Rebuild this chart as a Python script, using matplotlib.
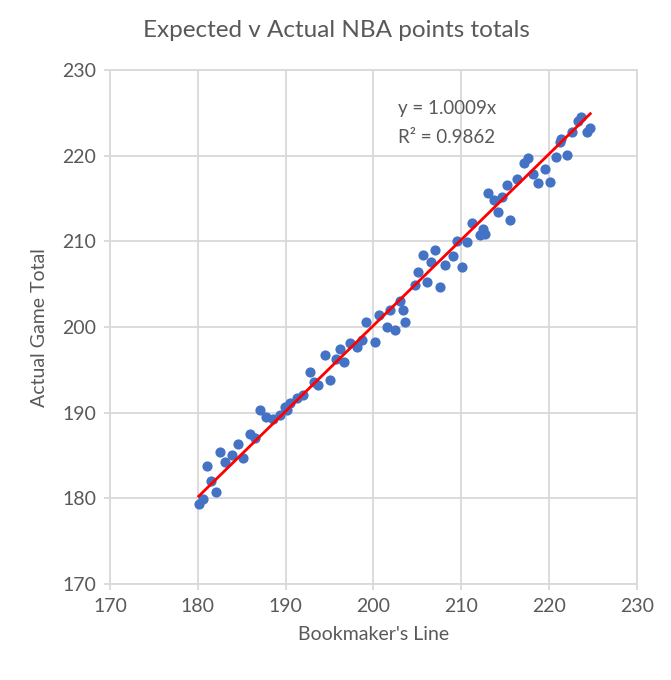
import numpy as np
import matplotlib
matplotlib.use("Agg")
import matplotlib.pyplot as plt

plt.rcParams['font.family'] = ['Lato', 'DejaVu Sans']

# Bookmaker's line (x) and actual game total (y)
line = [180.1, 180.6, 182.1, 181.5, 181.0, 182.5, 183.1, 183.9, 184.6, 185.2,
        185.9, 186.5, 187.1, 187.8, 188.6, 189.4, 190.1, 190.5, 191.3, 192.0,
        192.8, 193.7, 195.1, 194.5, 196.2, 196.6, 197.3, 198.1, 198.7, 200.2,
        199.2, 200.6, 201.5, 202.5, 201.9, 203.4, 203.6, 203.0, 204.7, 206.1,
        207.6, 205.1, 206.6, 205.7, 207.0, 208.2, 209.1, 210.1, 209.5, 210.7,
        211.2, 212.1, 212.7, 212.5, 215.6, 214.2, 213.1, 213.7, 214.6, 215.2,
        216.3, 217.1, 217.6, 218.2, 218.8, 219.5, 220.1, 220.8, 222.1, 221.3,
        221.4, 222.6, 223.3, 223.7, 224.3, 224.7, 193.2, 195.7, 189.9]
actual = [179.4, 179.9, 180.7, 182.0, 183.8, 185.4, 184.3, 185.1, 186.3, 184.7,
          187.5, 187.0, 190.3, 189.5, 189.3, 189.7, 190.3, 191.1, 191.7, 192.1,
          194.8, 193.2, 193.8, 196.7, 197.5, 195.9, 198.2, 197.7, 198.5, 198.3,
          200.6, 201.4, 200.0, 199.7, 202.0, 202.0, 200.6, 203.1, 204.9, 205.3,
          204.7, 206.4, 207.6, 208.4, 209.0, 207.2, 208.3, 207.0, 210.1, 209.9,
          212.1, 210.7, 210.9, 211.5, 212.5, 213.4, 215.6, 214.8, 215.2, 216.6,
          217.3, 219.1, 219.7, 217.9, 216.8, 218.4, 216.9, 219.8, 220.1, 221.6,
          222.0, 222.8, 224.1, 224.5, 222.8, 223.2, 193.6, 196.3, 190.7]
slope = 1.0009
r2 = 0.9862

x = np.array(line)
y = np.array(actual)

grey = '#595959'
grid = '#D9D9D9'

fig = plt.figure(figsize=(6.71, 6.80), dpi=100)
ax = fig.add_axes([0.164, 0.141, 0.785, 0.756])

ax.scatter(x, y, s=54, color='#4472C4', zorder=3, linewidths=0)
xl = np.array([x.min(), x.max()])
ax.plot(xl, slope * xl, color='#FF0000', lw=2, zorder=4)

ax.set_xlim(170, 230)
ax.set_ylim(170, 230)
ax.set_xticks(np.arange(170, 231, 10))
ax.set_yticks(np.arange(170, 231, 10))
ax.grid(True, color=grid, lw=1.3, zorder=0)
for s in ax.spines.values():
    s.set_color(grid)
    s.set_linewidth(1.3)
ax.tick_params(colors=grid, labelcolor=grey, labelsize=14, length=4, width=1.3, pad=6)

# chart title is centred on the whole figure, not the plot area
fig.text(0.502, 0.955, 'Expected v Actual NBA points totals', color=grey,
         fontsize=17.5, ha='center', va='center')
ax.set_xlabel("Bookmaker's Line", color=grey, fontsize=14, labelpad=8)
ax.set_ylabel('Actual Game Total', color=grey, fontsize=14, labelpad=10)

ax.text(202.8, 225.5, 'y = %.4fx' % slope, color=grey, fontsize=13.5, va='center')
ax.text(202.8, 222.1, 'R² = %.4f' % r2, color=grey, fontsize=13.5, va='center')

fig.savefig('out.png', dpi=100)
